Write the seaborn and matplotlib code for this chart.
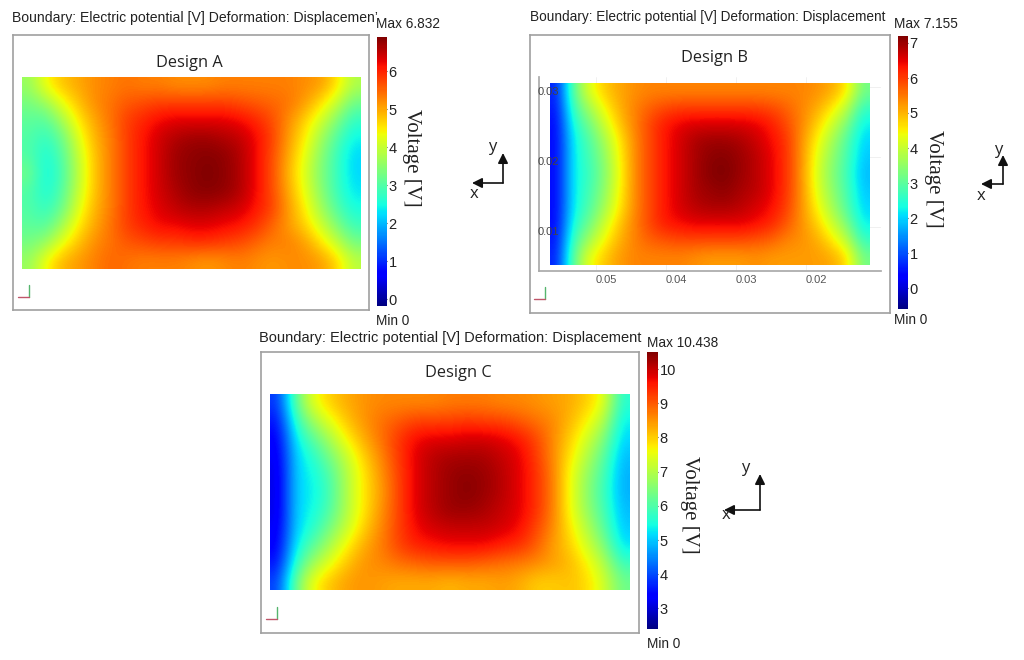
# -*- coding: utf-8 -*-
import matplotlib
matplotlib.use('Agg')
import numpy as np
import seaborn as sns
import matplotlib.pyplot as plt
from matplotlib.lines import Line2D
from matplotlib.patches import FancyArrowPatch

design_a = [
    [3.6,4.4,4.8,5.0,5.2,5.3,5.4,5.3,5.3,5.2,5.2,5.2,5.3,5.3,5.3,5.3,5.3,5.2,5.1,4.6,3.8],
    [3.3,3.6,4.3,4.8,5.2,5.4,5.6,5.7,5.8,5.8,5.8,5.8,5.8,5.7,5.6,5.5,5.4,5.1,4.6,4.0,3.2],
    [3.1,3.0,3.7,4.5,5.0,5.4,5.8,6.0,6.2,6.3,6.3,6.3,6.3,6.2,6.0,5.7,5.2,4.7,4.1,3.4,2.7],
    [3.0,2.7,3.2,4.2,4.9,5.3,5.8,6.1,6.4,6.6,6.7,6.7,6.6,6.5,6.2,5.8,5.1,4.5,3.7,3.0,2.4],
    [3.0,2.5,3.0,4.0,4.8,5.3,5.8,6.1,6.4,6.7,6.8,6.85,6.8,6.6,6.2,5.7,5.0,4.3,3.5,2.8,2.2],
    [3.3,2.4,2.9,3.9,4.8,5.3,5.8,6.1,6.4,6.7,6.8,6.9,6.8,6.6,6.2,5.7,4.9,4.2,3.4,2.8,2.2],
    [3.0,2.5,3.0,4.0,4.8,5.3,5.8,6.1,6.4,6.6,6.8,6.85,6.8,6.6,6.2,5.7,5.0,4.3,3.5,2.8,2.3],
    [3.0,2.7,3.2,4.2,4.9,5.3,5.8,6.1,6.3,6.5,6.6,6.6,6.5,6.4,6.1,5.8,5.1,4.5,3.7,3.0,2.5],
    [3.1,3.0,3.7,4.5,5.0,5.4,5.8,6.0,6.2,6.2,6.3,6.3,6.2,6.1,5.9,5.5,5.1,4.7,4.1,3.4,2.8],
    [3.3,3.6,4.3,4.8,5.2,5.4,5.6,5.7,5.8,5.8,5.9,5.9,5.8,5.7,5.5,5.3,5.3,5.1,4.6,4.0,3.3],
    [3.6,4.4,4.9,5.1,5.3,5.5,5.4,5.3,5.3,5.3,5.2,5.1,5.2,5.3,5.2,5.1,5.2,5.2,5.1,4.7,3.9],
]
design_b = [
    [0.6,3.0,4.2,4.8,5.1,5.3,5.4,5.4,5.4,5.4,5.4,5.4,5.4,5.4,5.4,5.4,5.4,5.3,5.1,4.6,3.2],
    [0.5,2.7,3.6,4.4,5.0,5.4,5.7,5.9,6.0,6.0,6.0,6.0,6.0,6.0,5.9,5.7,5.4,5.1,4.6,3.9,2.6],
    [0.4,2.4,3.1,4.0,4.8,5.4,5.9,6.3,6.5,6.6,6.6,6.6,6.6,6.5,6.3,5.9,5.4,4.8,4.1,3.3,2.2],
    [0.4,2.2,2.8,3.6,4.5,5.3,5.9,6.3,6.6,6.9,7.0,7.0,6.9,6.7,6.4,6.1,5.3,4.5,3.7,2.9,2.0],
    [0.4,2.2,2.7,3.4,4.4,5.3,5.9,6.3,6.6,6.9,7.1,7.15,7.0,6.8,6.5,6.1,5.3,4.3,3.5,2.8,1.9],
    [0.4,2.2,2.6,3.3,4.3,5.3,5.9,6.3,6.6,6.9,7.15,7.2,7.0,6.8,6.5,6.1,5.3,4.2,3.4,2.7,1.8],
    [0.4,2.2,2.7,3.4,4.4,5.3,5.9,6.3,6.6,6.9,7.0,7.1,6.9,6.8,6.5,6.1,5.3,4.3,3.5,2.8,1.9],
    [0.4,2.2,2.8,3.6,4.5,5.3,5.9,6.3,6.6,6.8,6.9,6.9,6.8,6.6,6.4,6.0,5.3,4.5,3.7,2.9,2.0],
    [0.4,2.4,3.1,4.0,4.8,5.4,5.9,6.3,6.4,6.5,6.5,6.5,6.5,6.4,6.2,5.8,5.3,4.8,4.1,3.3,2.2],
    [0.5,2.7,3.6,4.4,5.0,5.4,5.7,5.8,5.9,5.9,5.9,5.9,5.9,5.8,5.7,5.4,5.3,5.1,4.6,3.9,2.6],
    [0.6,3.0,4.3,4.8,5.2,5.4,5.4,5.4,5.4,5.3,5.2,5.2,5.2,5.3,5.2,5.2,5.2,5.2,5.1,4.7,3.2],
]
design_c = [
    [3.8,6.2,7.5,8.0,8.3,8.5,8.6,8.6,8.6,8.6,8.7,8.7,8.7,8.6,8.6,8.5,8.4,8.3,8.0,7.5,5.6],
    [3.5,5.7,6.8,7.5,8.1,8.5,8.8,9.0,9.2,9.2,9.2,9.3,9.2,9.2,9.0,8.8,8.6,8.2,7.7,7.0,5.3],
    [3.3,5.3,6.1,6.9,7.7,8.3,8.8,9.3,9.7,9.8,9.8,9.9,9.9,9.8,9.6,9.2,8.6,8.0,7.3,6.5,5.1],
    [3.2,5.1,5.6,6.4,7.2,8.0,8.6,9.3,9.8,10.1,10.2,10.2,10.2,10.0,9.8,9.3,8.6,7.8,7.0,6.1,4.9],
    [3.1,5.1,5.4,6.0,7.0,7.8,8.5,9.2,9.8,10.1,10.3,10.4,10.3,10.1,9.8,9.4,8.7,7.6,6.7,5.9,4.8],
    [3.1,5.1,5.3,5.9,7.0,7.8,8.4,9.2,9.8,10.1,10.3,10.45,10.3,10.1,9.8,9.4,8.7,7.6,6.6,5.8,4.8],
    [3.1,5.1,5.4,6.0,7.0,7.8,8.5,9.2,9.8,10.1,10.3,10.3,10.2,10.0,9.8,9.4,8.7,7.6,6.7,5.9,4.9],
    [3.2,5.1,5.6,6.4,7.2,8.0,8.6,9.2,9.7,9.9,10.0,10.0,10.0,9.9,9.7,9.2,8.6,7.8,7.0,6.1,5.0],
    [3.3,5.3,6.1,6.9,7.7,8.3,8.7,9.2,9.5,9.6,9.7,9.7,9.7,9.5,9.4,9.0,8.4,8.0,7.3,6.5,5.2],
    [3.5,5.7,6.8,7.5,8.1,8.5,8.6,8.8,8.9,9.0,9.0,9.0,8.9,8.8,8.7,8.6,8.4,8.2,7.7,7.0,5.8],
    [3.9,6.3,7.6,8.1,8.4,8.5,8.4,8.3,8.3,8.3,8.2,8.3,8.3,8.4,8.3,8.0,8.0,8.1,7.9,7.3,6.3],
]
ticks_a = [0, 1, 2, 3, 4, 5, 6]
ticks_b = [0, 1, 2, 3, 4, 5, 6, 7]
ticks_c = [3, 4, 5, 6, 7, 8, 9, 10]
x_ticks_b = [0.05, 0.04, 0.03, 0.02]
y_ticks_b = [0.03, 0.02, 0.01]
title_a = "Boundary: Electric potential [V] Deformation: Displacemen\u2019"
title_full = "Boundary: Electric potential [V] Deformation: Displacement"

W, H = 1024, 660
sns.set_theme(style="white")
plt.rcParams['font.family'] = ['Liberation Sans', 'DejaVu Sans']
fig = plt.figure(figsize=(W / 100, H / 100), dpi=100)


def box(x0, y0, x1, y1, **kw):
    # pixel box, y measured from the top of the image
    return fig.add_axes([x0 / W, 1 - y1 / H, (x1 - x0) / W, (y1 - y0) / H], **kw)


def put(x, y, s, **kw):
    fig.text(x / W, 1 - y / H, s, **kw)


def seg(x0, y0, x1, y1, **kw):
    fig.add_artist(Line2D([x0 / W, x1 / W], [1 - y0 / H, 1 - y1 / H], transform=fig.transFigure, **kw))


def panel(data, frame, field, cbar, vmin, vmax, ticks, name, name_xy, title, title_xy, title_size,
          top_s, top_xy, min_xy, volt_xy):
    fr = box(*frame, zorder=0)
    fr.set_xticks([]); fr.set_yticks([])
    for s in fr.spines.values():
        s.set_color("#a0a0a0"); s.set_linewidth(1.2)
    ax = box(*field, zorder=2)
    cax = box(*cbar, zorder=2)
    arr = np.array(data)
    sns.heatmap(arr, ax=ax, cmap="jet", vmin=vmin, vmax=vmax, cbar_ax=cax,
                cbar_kws={"ticks": ticks}, xticklabels=False, yticklabels=False)
    # smooth the surface when it is rendered, same values and same scale
    ax.imshow(arr, cmap="jet", vmin=vmin, vmax=vmax, interpolation="bicubic", aspect="auto",
              extent=(0, arr.shape[1], arr.shape[0], 0), zorder=3)
    cax.tick_params(right=True, length=3, width=0.8, color="#333333", pad=1, labelsize=10.5,
                    labelcolor="#222222", direction="in")
    put(name_xy[0], name_xy[1], name, family="Open Sans", fontsize=11.8, color="#222222",
        ha="center", va="center")
    put(title_xy[0], title_xy[1], title, fontsize=title_size, color="#222222", va="center")
    put(top_xy[0], top_xy[1], top_s, fontsize=9.8, color="#222222", va="center")
    put(min_xy[0], min_xy[1], "Min 0", fontsize=9.8, color="#222222", va="center")
    put(volt_xy[0], volt_xy[1], "Voltage [V]", family="Liberation Serif", fontsize=15,
        rotation=270, color="#222222", ha="center", va="center")
    return ax


def triad(x, y):
    seg(x, y, x, y - 12, color="#55b56d", lw=1)
    seg(x, y, x - 11, y, color="#c0566a", lw=1)


def arrows(cx, cy, up, left, y_xy, x_xy):
    for end in [(cx, up), (left, cy)]:
        fig.add_artist(FancyArrowPatch(
            (cx / W, 1 - cy / H), (end[0] / W, 1 - end[1] / H), transform=fig.transFigure,
            arrowstyle="-|>", mutation_scale=15, color="#111111", lw=1.2, shrinkA=0, shrinkB=0))
    put(y_xy[0], y_xy[1], "y", family="Open Sans", fontsize=12, color="#222222", ha="center", va="center")
    put(x_xy[0], x_xy[1], "x", family="Open Sans", fontsize=12, color="#222222", ha="center", va="center")


panel(design_a, (13, 35, 369, 310), (22, 77, 361, 269), (377, 37, 387, 306), -0.18, 6.9, ticks_a,
      "Design A", (189, 63), title_a, (12, 18), 10.1, "Max 6.832", (376, 24), (376, 321), (411, 158))
panel(design_b, (530, 35, 890, 313), (550, 83, 870, 265), (898, 36, 908, 309), -0.6, 7.2, ticks_b,
      "Design B", (714, 58), title_full, (530, 17), 9.85, "Max 7.155", (894, 24), (894, 320), (933, 179))
panel(design_c, (261, 352, 639, 633), (270, 394, 630, 590), (647, 352, 658, 629), 2.4, 10.5, ticks_c,
      "Design C", (458, 373), title_full, (259, 338), 10.5, "Max 10.438", (647, 343), (647, 644), (689, 505))

# physical axes of design B, they only show on this panel
xlim_b = (0.05 + (596 - 539) / 7000, 0.05 - (881 - 596) / 7000)
ylim_b = (0.03 - (271 - 87) / 7000, 0.03 + (87 - 77) / 7000)
ax_b = box(539, 77, 881, 271, zorder=1)
ax_b.patch.set_alpha(0)
ax_b.set_xlim(*xlim_b)
ax_b.set_ylim(*ylim_b)
ax_b.set_xticks(x_ticks_b)
ax_b.set_xticklabels(["%.2f" % v for v in x_ticks_b], ha="left")
ax_b.set_yticks(y_ticks_b)
ax_b.set_yticklabels([])
ax_b.tick_params(axis="both", length=0, pad=3, labelsize=8, labelcolor="#555555")
ax_b.spines["top"].set_visible(False)
ax_b.spines["right"].set_visible(False)
ax_b.spines["left"].set_color("#aaaaaa")
ax_b.spines["bottom"].set_color("#aaaaaa")
ax_b.grid(True, color="#eeeeee", lw=0.6)

# its y labels sit over the surface
ax_by = box(539, 77, 881, 271, zorder=4)
ax_by.patch.set_alpha(0)
ax_by.set_xlim(*xlim_b)
ax_by.set_ylim(*ylim_b)
ax_by.set_xticks([])
ax_by.set_yticks(y_ticks_b)
ax_by.set_yticklabels(["%.2f" % v for v in y_ticks_b], ha="left", va="top")
ax_by.tick_params(axis="y", length=0, pad=1, labelsize=8, labelcolor="#444444")
for s in ax_by.spines.values():
    s.set_visible(False)

triad(29, 297)
triad(545, 299)
triad(277, 619)

arrows(503, 183, 153, 472, (492, 147), (474, 194))
arrows(1003, 184, 155, 981, (998, 150), (981, 196))
arrows(760, 510, 474, 724, (745, 468), (726, 515))

plt.savefig("out.png", dpi=100)
